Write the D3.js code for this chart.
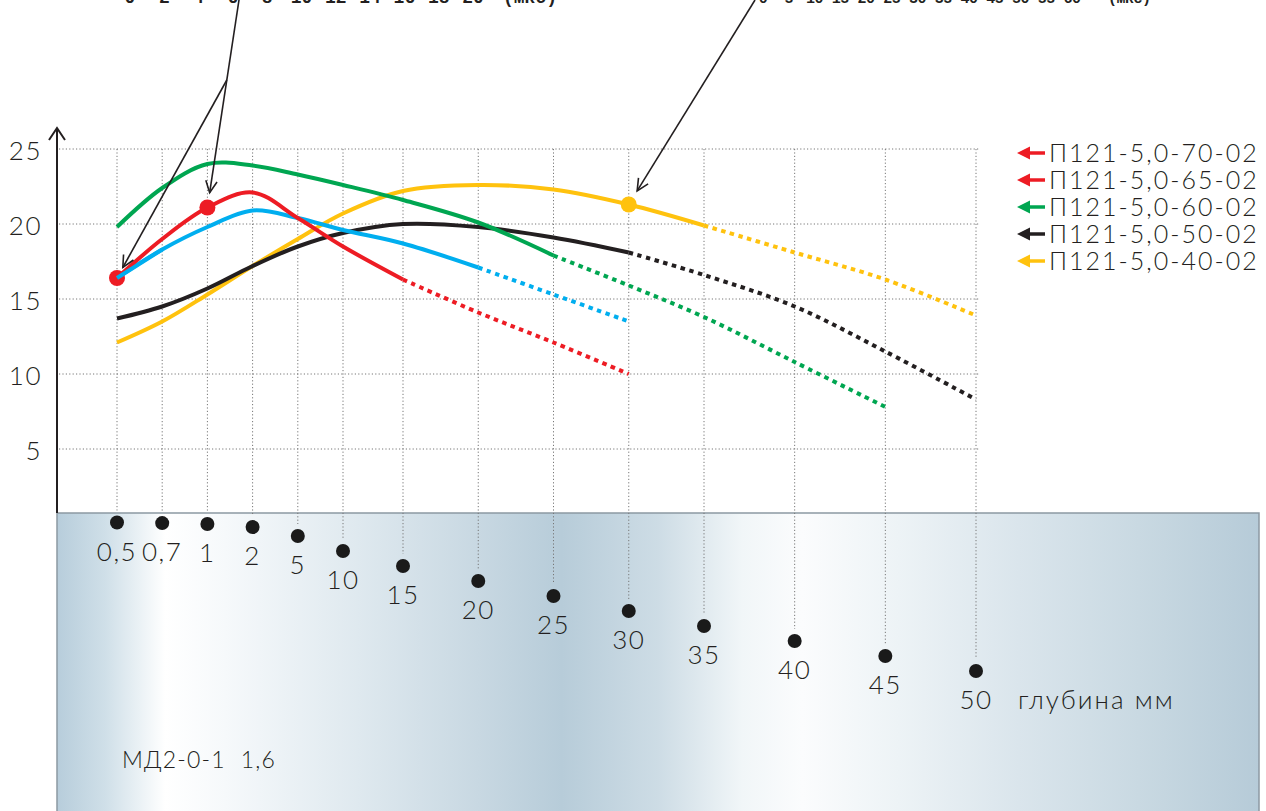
<!DOCTYPE html>
<html>
<head>
<meta charset="utf-8">
<script src="https://cdn.jsdelivr.net/npm/d3@7"></script>
<style>
  html, body { margin: 0; padding: 0; background: #fff; }
  svg { display: block; }
  .geo { font-family: "Lato", "Noto Sans", sans-serif; font-weight: 300; fill: #231f20; }
  .mono { font-family: "Liberation Mono", "DejaVu Sans Mono", monospace; fill: #231f20; }
</style>
</head>
<body>
<svg id="chart" width="1266" height="811"></svg>
<script>
// Depth categories (mm) shown along the bottom
const depthLabels = ["0,5", "0,7", "1", "2", "5", "10", "15", "20", "25", "30", "35", "40", "45", "50"];
const depthValues = [0.5, 0.7, 1, 2, 5, 10, 15, 20, 25, 30, 35, 40, 45, 50];

// Vertical axis ticks
const yTicks = [5, 10, 15, 20, 25];

// Legend entries
const legendNames = ["П121-5,0-70-02", "П121-5,0-65-02", "П121-5,0-60-02", "П121-5,0-50-02", "П121-5,0-40-02"];

// Curve values, one per depth category
const redValues    = [16.4, 19.0, 21.1, 22.1, 20.4, 18.5, 16.3, 14.1, 12.1, 10.0];
const cyanValues   = [16.4, 18.3, 19.8, 20.9, 20.4, 19.6, 18.7, 17.1, 15.3, 13.5];
const greenValues  = [19.8, 22.4, 24.0, 23.9, 23.3, 22.6, 21.6, 20.1, 17.9, 15.9, 13.8, 10.8, 7.8];
const blackValues  = [13.7, 14.5, 15.7, 17.2, 18.5, 19.4, 20.0, 19.8, 19.1, 18.1, 16.6, 14.5, 11.5, 8.3];
const yellowValues = [12.1, 13.5, 15.3, 17.2, 19.0, 20.7, 22.2, 22.6, 22.3, 21.3, 19.9, 18.1, 16.3, 13.9];

// Index of the last solid point; the rest of each curve is dotted
const solidUpTo = { red: 6, cyan: 7, green: 8, black: 9, yellow: 10 };

// Time scales printed along the top edge
const timeTicksA = [0, 2, 4, 6, 8, 10, 12, 14, 16, 18, 20];
const timeTicksB = [0, 5, 10, 15, 20, 25, 30, 35, 40, 45, 50, 55, 60];
const timeUnit = "(мкс)";

const colors = {
  red: "#ed1c24", cyan: "#00aeef", green: "#00a651", black: "#231f20", yellow: "#ffc20e"
};
const legendColors = [colors.red, colors.red, colors.green, colors.black, colors.yellow];

const svg = d3.select("#chart");

// ---- scales ----
// category index -> x (spacing widens for the deeper categories)
const x = d3.scaleLinear().domain([0, 5, 6, 10, 13]).range([117, 343, 403, 704, 976]);
const y = d3.scaleLinear().domain([0, 25]).range([524, 149]);
const depthY = d3.scaleLinear().domain([0, 50]).range([521, 671]);

const plotLeft = 57, panelTop = 513, panelRight = 1259;

// ---- material panel with a banded blue-grey gradient ----
const defs = svg.append("defs");
const grad = defs.append("linearGradient")
  .attr("id", "panelGrad").attr("gradientUnits", "userSpaceOnUse")
  .attr("x1", plotLeft).attr("x2", panelRight).attr("y1", 0).attr("y2", 0);
[
  [0.00, "#b7cddb"], [0.04, "#cfdfe8"], [0.09, "#ffffff"], [0.14, "#f6f9fb"],
  [0.25, "#dfe9ef"], [0.35, "#c8d8e2"], [0.42, "#b7ccd9"], [0.50, "#cddce5"],
  [0.57, "#f1f6f8"], [0.62, "#fbfcfd"], [0.70, "#edf3f6"], [0.80, "#dae5ec"],
  [0.90, "#c9d9e2"], [1.00, "#b6cbd8"]
].forEach(([o, c]) => grad.append("stop").attr("offset", o).attr("stop-color", c));

svg.append("rect")
  .attr("x", plotLeft).attr("y", panelTop)
  .attr("width", panelRight - plotLeft).attr("height", 811 - panelTop + 10)
  .attr("fill", "url(#panelGrad)")
  .attr("stroke", "#8c99a3").attr("stroke-width", 1.5);

// ---- grid ----
const grid = svg.append("g").attr("stroke", "#777").attr("stroke-width", 1)
  .attr("stroke-dasharray", "1.2,2.2").attr("fill", "none");
yTicks.forEach(t => {
  grid.append("line").attr("x1", plotLeft + 2).attr("x2", x(13) + 4)
    .attr("y1", y(t)).attr("y2", y(t));
});
depthValues.forEach((d, i) => {
  grid.append("line").attr("x1", x(i)).attr("x2", x(i))
    .attr("y1", y(25)).attr("y2", depthY(d) - 12);
});

// ---- vertical axis with open arrow ----
svg.append("line").attr("x1", plotLeft).attr("x2", plotLeft)
  .attr("y1", panelTop).attr("y2", 129)
  .attr("stroke", "#231f20").attr("stroke-width", 2);
svg.append("path")
  .attr("d", `M${plotLeft - 8},140 L${plotLeft},128 L${plotLeft + 8},140`)
  .attr("fill", "none").attr("stroke", "#231f20").attr("stroke-width", 2);

svg.append("g").selectAll("text").data(yTicks).join("text")
  .attr("class", "geo")
  .attr("x", 42).attr("y", d => y(d) + 2).attr("dy", "0.35em")
  .attr("text-anchor", "end").attr("font-size", 26).attr("letter-spacing", 1.5)
  .text(d => d);

// ---- depth points and labels ----
svg.append("g").selectAll("circle").data(depthValues).join("circle")
  .attr("cx", (d, i) => x(i)).attr("cy", d => depthY(d)).attr("r", 7)
  .attr("fill", "#1a1a1a");
svg.append("g").selectAll("text").data(depthLabels).join("text")
  .attr("class", "geo")
  .attr("x", (d, i) => x(i)).attr("y", (d, i) => depthY(depthValues[i]) + 38)
  .attr("text-anchor", "middle").attr("font-size", 26).attr("letter-spacing", 1.5)
  .text(d => d);

svg.append("text").attr("class", "geo")
  .attr("x", 1018).attr("y", depthY(50) + 38).attr("font-size", 26).attr("letter-spacing", 2)
  .text("глубина мм");
svg.append("text").attr("class", "geo")
  .attr("x", 122).attr("y", 768).attr("font-size", 23).attr("letter-spacing", 1.2)
  .attr("xml:space", "preserve")
  .text("МД2-0-1  1,6");

// ---- curves ----
const line = d3.line().x(d => x(d.i)).y(d => y(d.v)).curve(d3.curveCatmullRom.alpha(0.5));
function drawSeries(values, color, solidEnd) {
  const pts = values.map((v, i) => ({ i, v }));
  const solid = pts.slice(0, solidEnd + 1);
  const dotted = pts.slice(solidEnd);
  if (dotted.length > 1) {
    svg.append("path").datum(dotted).attr("d", line)
      .attr("fill", "none").attr("stroke", color).attr("stroke-width", 4)
      .attr("stroke-dasharray", "4.5,4.5");
  }
  svg.append("path").datum(solid).attr("d", line)
    .attr("fill", "none").attr("stroke", color).attr("stroke-width", 4)
    .attr("stroke-linecap", "butt");
}
drawSeries(yellowValues, colors.yellow, solidUpTo.yellow);
drawSeries(blackValues, colors.black, solidUpTo.black);
drawSeries(greenValues, colors.green, solidUpTo.green);
drawSeries(cyanValues, colors.cyan, solidUpTo.cyan);
drawSeries(redValues, colors.red, solidUpTo.red);

// highlighted points
const marks = [
  { i: 0, v: redValues[0], c: colors.red },
  { i: 2, v: redValues[2], c: colors.red },
  { i: 9, v: yellowValues[9], c: colors.yellow }
];
svg.append("g").selectAll("circle").data(marks).join("circle")
  .attr("cx", d => x(d.i)).attr("cy", d => y(d.v)).attr("r", 8)
  .attr("fill", d => d.c);
// cyan start sits on top of the red dot
svg.append("path").datum(cyanValues.slice(0, 2).map((v, i) => ({ i, v })))
  .attr("d", line).attr("fill", "none").attr("stroke", colors.cyan).attr("stroke-width", 4);

// ---- annotation arrows ----
function arrowTo(from, mark, gap) {
  const cx = x(mark.i), cy = y(mark.v);
  const dx = cx - from[0], dy = cy - from[1];
  const len = Math.hypot(dx, dy);
  const ux = dx / len, uy = dy / len;
  const tx = cx - ux * gap, ty = cy - uy * gap;
  const g = svg.append("g").attr("stroke", "#231f20").attr("stroke-width", 1.6).attr("fill", "none");
  g.append("line").attr("x1", from[0]).attr("y1", from[1]).attr("x2", tx).attr("y2", ty);
  const a = Math.atan2(uy, ux), L = 13, w = 0.45;
  g.append("path").attr("d",
    `M${tx - L * Math.cos(a - w)},${ty - L * Math.sin(a - w)} L${tx},${ty} L${tx - L * Math.cos(a + w)},${ty - L * Math.sin(a + w)}`);
  // point on this arrow's shaft at a given height
  return yy => [from[0] + (tx - from[0]) * (yy - from[1]) / (ty - from[1]), yy];
}
const shaftAt = arrowTo([239, 0], marks[1], 15);
arrowTo(shaftAt(80), marks[0], 12);
arrowTo([755, 0], marks[2], 16);

// ---- time scales along the top (partly outside the frame) ----
const tA = d3.scaleLinear().domain([0, 20]).range([130, 473]);
const tB = d3.scaleLinear().domain([0, 60]).range([763, 1072]);
const rowA = svg.append("g").attr("class", "mono").attr("font-size", 18).attr("font-weight", "bold");
rowA.selectAll("text.ta").data(timeTicksA).join("text").attr("class", "ta mono")
  .attr("x", d => tA(d)).attr("y", 3).attr("text-anchor", "middle").text(d => d);
rowA.append("text").attr("class", "mono").attr("x", 503).attr("y", 3).text(timeUnit);
const rowB = svg.append("g").attr("class", "mono").attr("font-size", 15).attr("font-weight", "bold")
  .attr("letter-spacing", -0.5);
rowB.selectAll("text.tb").data(timeTicksB).join("text").attr("class", "tb mono")
  .attr("x", d => tB(d)).attr("y", 3).attr("text-anchor", "middle").text(d => d);
rowB.append("text").attr("class", "mono").attr("x", 1108).attr("y", 3).text(timeUnit);

// ---- legend ----
const leg = svg.append("g");
legendNames.forEach((name, k) => {
  const cy = 153 + k * 27;
  leg.append("line").attr("x1", 1027).attr("x2", 1045).attr("y1", cy).attr("y2", cy)
    .attr("stroke", legendColors[k]).attr("stroke-width", 3.5);
  leg.append("path").attr("d", `M1017,${cy} L1030,${cy - 6.5} L1030,${cy + 6.5} Z`)
    .attr("fill", legendColors[k]);
  leg.append("text").attr("class", "geo").attr("x", 1049).attr("y", cy).attr("dy", "0.36em")
    .attr("font-size", 25).attr("letter-spacing", 2).text(name);
});
</script>
</body>
</html>
